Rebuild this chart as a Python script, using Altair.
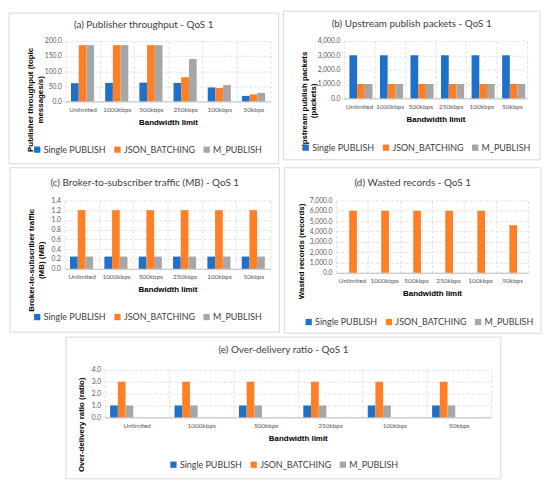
import altair as alt
import pandas as pd

categories = ["Unlimited", "1000kbps", "500kbps", "250kbps", "100kbps", "50kbps"]
series = ["Single PUBLISH", "JSON_BATCHING", "M_PUBLISH"]
colors = ["#1F70C8", "#FF7F27", "#A6A6A6"]

# (a) Publisher throughput
throughput_single = [60, 61, 62, 61, 46, 18]
throughput_json = [186, 186, 186, 80, 44, 23]
throughput_m = [186, 186, 186, 140, 54, 28]
throughput_ticks = [0, 50, 100, 150, 200]

# (b) Upstream publish packets
packets_single = [3000, 3000, 3000, 3000, 3000, 3000]
packets_json = [1000, 1000, 1000, 1000, 1000, 1000]
packets_m = [1000, 1000, 1000, 1000, 1000, 1000]
packets_ticks = [0, 1000, 2000, 3000, 4000]

# (c) Broker-to-subscriber traffic
traffic_single = [0.25, 0.25, 0.25, 0.25, 0.25, 0.25]
traffic_json = [1.2, 1.2, 1.2, 1.2, 1.2, 1.2]
traffic_m = [0.25, 0.25, 0.25, 0.25, 0.25, 0.25]
traffic_ticks = [0, 0.2, 0.4, 0.6, 0.8, 1.0, 1.2, 1.4]

# (d) Wasted records
wasted_single = [0, 0, 0, 0, 0, 0]
wasted_json = [6000, 6000, 6000, 6000, 6000, 4600]
wasted_m = [0, 0, 0, 0, 0, 0]
wasted_ticks = [0, 1000, 2000, 3000, 4000, 5000, 6000, 7000]

# (e) Over-delivery ratio
ratio_single = [1.0, 1.0, 1.0, 1.0, 1.0, 1.0]
ratio_json = [3.0, 3.0, 3.0, 3.0, 3.0, 3.0]
ratio_m = [1.0, 1.0, 1.0, 1.0, 1.0, 1.0]
ratio_ticks = [0, 1, 2, 3, 4]


def make_df(vals):
    rows = []
    for s, v in zip(series, vals):
        for c, y in zip(categories, v):
            rows.append({"cat": c, "series": s, "value": y})
    return pd.DataFrame(rows)


def panel(vals, title, ytitle, ticks, fmt, w, h, frame, ty, ytx, yty, lx, ly):
    df = make_df(vals)
    fl, ft, fr, fb = frame
    one = pd.DataFrame({"f": [0]})
    frame_layer = alt.Chart(one).mark_rect(
        fill="white", fillOpacity=0, stroke="#D9D9D9", strokeWidth=1
    ).encode(x=alt.value(fl), x2=alt.value(fr), y=alt.value(ft), y2=alt.value(fb))

    title_layer = alt.Chart(one).mark_text(
        text=title, font="Lato", fontSize=10, color="#404040",
        align="center", baseline="middle",
    ).encode(x=alt.value((fl + fr) / 2), y=alt.value(ty))

    bars = alt.Chart(df).mark_bar().encode(
        x=alt.X(
            "cat:N", sort=categories,
            scale=alt.Scale(paddingInner=0, paddingOuter=0),
            axis=alt.Axis(
                title="Bandwidth limit", labelAngle=0, tickBand="extent", grid=True,
                ticks=False, domainColor="#BFBFBF", labelFontSize=6.5, labelPadding=5,
                titleY=21, titleBaseline="middle",
            ),
        ),
        xOffset=alt.XOffset("series:N", sort=series,
                            scale=alt.Scale(paddingOuter=0.72, paddingInner=0)),
        y=alt.Y(
            "value:Q",
            scale=alt.Scale(domain=[0, ticks[-1]], nice=False),
            axis=alt.Axis(
                values=ticks, format=fmt, title=ytitle, titleX=ytx, titleY=yty,
                titleBaseline="middle", titleAlign="center", titleLineHeight=9.5,
                domain=False, ticks=False, labelPadding=4, labelFontSize=6.8,
            ),
        ),
        color=alt.Color(
            "series:N", sort=series,
            scale=alt.Scale(domain=series, range=colors),
            legend=alt.Legend(
                title=None, orient="none", legendX=lx, legendY=ly,
                direction="horizontal", symbolType="square",
            ),
        ),
    )
    return alt.layer(frame_layer, title_layer, bars).properties(width=w, height=h)


pa = panel([throughput_single, throughput_json, throughput_m],
           "(a) Publisher throughput - QoS 1",
           ["Publisher throughput (topic", "messages/s)"],
           throughput_ticks, ",.1f", 207, 61, (-57, -28, 215, 124),
           -16, -35, 59, -33, 105)
pb = panel([packets_single, packets_json, packets_m],
           "(b) Upstream publish packets - QoS 1",
           ["Upstream publish packets", "(packets)"],
           packets_ticks, ",.1f", 185, 58, (-61, -30, 198, 120),
           -17, -40, 60, -43, 103)
pc = panel([traffic_single, traffic_json, traffic_m],
           "(c) Broker-to-subscriber traffic (MB) - QoS 1",
           ["Broker-to-subscriber traffic", "(MB) (MB)"],
           traffic_ticks, ".1f", 208, 69, (-55, -33, 217, 133),
           -18, -33, 60, -32, 113)
pd_ = panel([wasted_single, wasted_json, wasted_m],
            "(d) Wasted records - QoS 1",
            "Wasted records (records)",
            wasted_ticks, ",.1f", 194, 73, (-52, -33, 207, 134),
            -18, -35, 51, -32, 118)
pe = panel([ratio_single, ratio_json, ratio_m],
           "(e) Over-delivery ratio - QoS 1",
           "Over-delivery ratio (ratio)",
           ratio_ticks, ".1f", 390, 48, (-39, -33, 400, 110),
           -20, -23, 55, 65, 91)

row1 = alt.hconcat(pa, pb, spacing=3).resolve_scale(color="independent").resolve_legend(color="independent")
row2 = alt.hconcat(pc, pd_, spacing=3).resolve_scale(color="independent").resolve_legend(color="independent")

chart = alt.vconcat(row1, row2, pe, spacing=2, center=True).resolve_scale(
    color="independent"
).resolve_legend(color="independent").properties(padding=0).configure_view(
    stroke="transparent"
).configure_axis(
    gridColor="#D9D9D9", gridDash=[3, 2], gridWidth=0.8,
    labelFont="Lato", labelColor="#595959",
    titleFont="Liberation Sans", titleFontWeight="bold", titleFontSize=8, titleColor="#000000",
).configure_legend(
    labelFont="Lato", labelFontSize=9, labelColor="#404040",
    symbolSize=40, symbolStrokeWidth=0, labelOffset=2, columnPadding=7,
)

chart.save("out.html", embed_options={"renderer": "svg", "actions": False})
